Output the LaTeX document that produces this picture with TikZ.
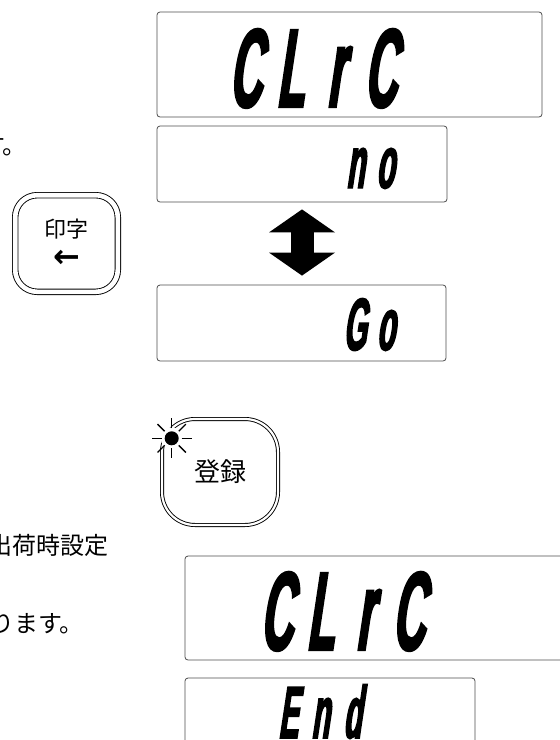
\documentclass[tikz,border=0pt]{standalone}
\usepackage{fontspec}
\setmainfont{Noto Sans CJK JP}
\newfontfamily\segfont{Liberation Sans}[FakeSlant=0.15,FakeStretch=0.4,FakeBold=2]
\newfontfamily\symfont{DejaVu Sans}
\usetikzlibrary{arrows.meta}
\newcommand\dg[2][45]{\makebox[#1pt]{#2}}

\begin{document}
\begin{tikzpicture}[
  x=1pt,y=-1pt,
  lcd/.style={draw=black!70,line width=0.8pt,rounded corners=3pt,inner sep=0pt},
  big/.style={font=\segfont\bfseries\fontsize{112}{112}\selectfont,inner sep=0pt,anchor=base west},
  small/.style={font=\segfont\bfseries\fontsize{74}{74}\selectfont,inner sep=0pt,anchor=base west},
  key/.style={draw,line width=0.9pt,double,inner sep=0pt,align=center},
  note/.style={font=\fontsize{24}{24}\selectfont,inner sep=0pt,anchor=east},
  swap/.style={line width=23pt,
    {Triangle[width=66pt,length=23pt,line width=0pt]}-{Triangle[width=66pt,length=23pt,line width=0pt]},
    shorten <=7pt,shorten >=9pt}
]
\clip (0,0) rectangle (560,740);
\node[lcd,minimum width=385pt,minimum height=105pt] (b1) at (349.5,64.5) {};
\node[lcd,minimum width=290pt,minimum height=76pt] (b2) at (302,164) {};
\node[lcd,minimum width=289pt,minimum height=76pt] (b3) at (301.5,323) {};
\node[lcd,minimum width=385pt,minimum height=104pt] (b4) at (377.5,608) {};
\node[lcd,minimum width=290pt,minimum height=76pt] (b5) at (330,716) {};
\node[big] (t1) at (222.5,107) {\dg{C}\dg{L}\dg{r}\dg{C}};
\node[small] (t2) at (340,188) {\dg[30]{n}\dg[30]{o}};
\node[small] (t3) at (339,350) {\dg[31]{G}\dg[31]{o}};
\node[big] (t4) at (254,650) {\dg[44]{C}\dg[44]{L}\dg[44]{r}\dg[44]{C}};
\node[small] (t5) at (272,738) {\dg[32]{E}\dg[32]{n}\dg[32]{d}};
\draw[swap] (b2.south) -- (b2.south |- b3.north);
\node[key,double distance=4.6pt,rounded corners=22pt,minimum width=102.6pt,minimum height=96.6pt,
  font=\fontsize{22}{30}\selectfont] (print) at (66.5,243.5) {印字\\{\symfont\bfseries\fontsize{32}{30}\selectfont ←}};
\node[key,double distance=2.2pt,rounded corners=33pt,minimum width=116pt,minimum height=106pt,
  font=\fontsize{26}{26}\selectfont] (reg) at (220,472) {登録};
\coordinate (lamp) at (171.7,438.3);
\fill[white] (lamp) circle (11);
\fill (lamp) circle (7);
\foreach \a in {0,45,...,315}
  \draw[line width=1.4pt] (lamp) ++(\a:10) -- ++(\a:10);
\node[note] (n1) at (27,146) {す。};
\node[note] (n2) at (109,545) {出荷時設定};
\node[note] (n3) at (84,624) {ります。};
\end{tikzpicture}
\end{document}
